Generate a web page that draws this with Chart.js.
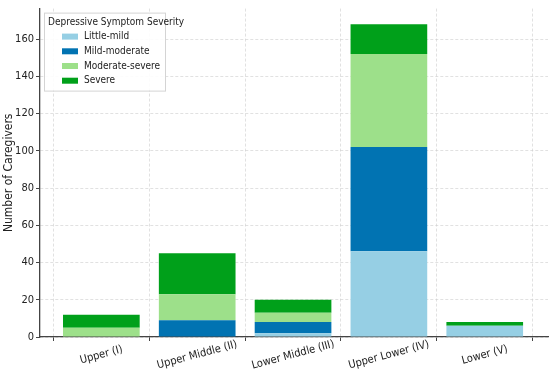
<!DOCTYPE html>
<html>
<head>
<meta charset="utf-8">
<script src="https://cdn.jsdelivr.net/npm/chart.js@4.4.1/dist/chart.umd.min.js"></script>
<style>
    html, body { margin: 0; padding: 0; background: #fff; }
    #wrap { width: 550px; height: 382px; position: relative; }
</style>
</head>
<body>
<div id="wrap"><canvas id="sesChart"></canvas></div>
<script>
    // Data
    const classes = ['Upper (I)', 'Upper Middle (II)', 'Lower Middle (III)', 'Upper Lower (IV)', 'Lower (V)'];
    const littleMild = [0, 0, 2, 46, 6];
    const mildModerate = [0, 9, 6, 56, 0];
    const moderateSevere = [5, 14, 5, 50, 0];
    const severe = [7, 22, 7, 16, 2];
    const yTicks = [0, 20, 40, 60, 80, 100, 120, 140, 160];
    const legendTitle = 'Depressive Symptom Severity';

    const FONT = "'DejaVu Sans Condensed', 'Liberation Sans Narrow', 'DejaVu Sans', sans-serif";

    function toPoints(arr) {
        return arr.map(function(v, i) { return { x: i, y: v }; });
    }

    // centred rotated x labels (chart.js right-aligns rotated ticks)
    const xLabels = {
        id: 'xLabels',
        afterDraw: function(chart) {
            const ctx = chart.ctx;
            const xs = chart.scales.x;
            ctx.save();
            ctx.fillStyle = '#222';
            ctx.font = '11px ' + FONT;
            ctx.textAlign = 'center';
            ctx.textBaseline = 'middle';
            classes.forEach(function(lbl, i) {
                ctx.save();
                ctx.translate(xs.getPixelForValue(i), xs.top + 18);
                ctx.rotate(-15 * Math.PI / 180);
                ctx.fillText(lbl, 0, 0);
                ctx.restore();
            });
            ctx.restore();
        }
    };

    // matplotlib style legend inside the plot, top left
    const boxLegend = {
        id: 'boxLegend',
        afterDraw: function(chart) {
            const ctx = chart.ctx;
            const area = chart.chartArea;
            const x0 = area.left + 4, y0 = area.top + 4;
            ctx.save();
            ctx.fillStyle = 'rgba(255,255,255,0.9)';
            ctx.strokeStyle = '#d4d4d4';
            ctx.lineWidth = 1;
            ctx.fillRect(x0, y0, 121, 78);
            ctx.strokeRect(x0 + 0.5, y0 + 0.5, 121, 78);
            ctx.fillStyle = '#222';
            ctx.font = '10px ' + FONT;
            ctx.textBaseline = 'middle';
            ctx.fillText(legendTitle, x0 + 4, y0 + 10);
            chart.data.datasets.forEach(function(ds, i) {
                const cy = y0 + 24 + i * 14.7;
                ctx.fillStyle = ds.backgroundColor;
                ctx.fillRect(x0 + 18, cy - 3, 16, 6);
                ctx.fillStyle = '#222';
                ctx.fillText(ds.label, x0 + 40, cy);
            });
            ctx.restore();
        }
    };

    new Chart(document.getElementById('sesChart'), {
        type: 'bar',
        data: {
            datasets: [
                { label: 'Little-mild', data: toPoints(littleMild), backgroundColor: '#96cfe4' },
                { label: 'Mild-moderate', data: toPoints(mildModerate), backgroundColor: '#0173b2' },
                { label: 'Moderate-severe', data: toPoints(moderateSevere), backgroundColor: '#9de08a' },
                { label: 'Severe', data: toPoints(severe), backgroundColor: '#00a01a' }
            ]
        },
        options: {
            responsive: true,
            maintainAspectRatio: false,
            animation: false,
            layout: { padding: { top: 8, right: 2, left: 2, bottom: 0 } },
            datasets: {
                bar: { categoryPercentage: 1, barPercentage: 0.8, borderWidth: 0 }
            },
            plugins: {
                tooltip: { enabled: false },
                legend: { display: false }
            },
            scales: {
                x: {
                    type: 'linear',
                    min: -0.64,
                    max: 4.66,
                    offset: false,
                    stacked: true,
                    afterFit: function(s) { s.height = 45; },
                    afterBuildTicks: function(s) {
                        s.ticks = classes.map(function(c, i) { return { value: i }; });
                    },
                    ticks: {
                        color: 'transparent',
                        callback: function() { return ''; }
                    },
                    border: { display: true, color: '#444', width: 1.3, dash: [3, 2] },
                    grid: {
                        color: 'rgba(205,205,205,0.6)',
                        tickColor: '#444',
                        tickLength: 4
                    }
                },
                y: {
                    stacked: true,
                    min: 0,
                    max: 176.4,
                    afterFit: function(s) { s.width = 38; },
                    afterBuildTicks: function(s) {
                        s.ticks = yTicks.map(function(v) { return { value: v }; });
                    },
                    title: {
                        display: true,
                        text: 'Number of Caregivers',
                        color: '#222',
                        font: { family: FONT, size: 12 },
                        padding: { top: 0, bottom: 0 }
                    },
                    ticks: {
                        color: '#222',
                        padding: 2,
                        font: { family: FONT, size: 11 }
                    },
                    border: { display: true, color: '#444', width: 1.3, dash: [3, 2] },
                    grid: {
                        color: 'rgba(205,205,205,0.6)',
                        tickColor: '#444',
                        tickLength: 4
                    }
                }
            }
        },
        plugins: [boxLegend, xLabels]
    });
</script>
</body>
</html>
